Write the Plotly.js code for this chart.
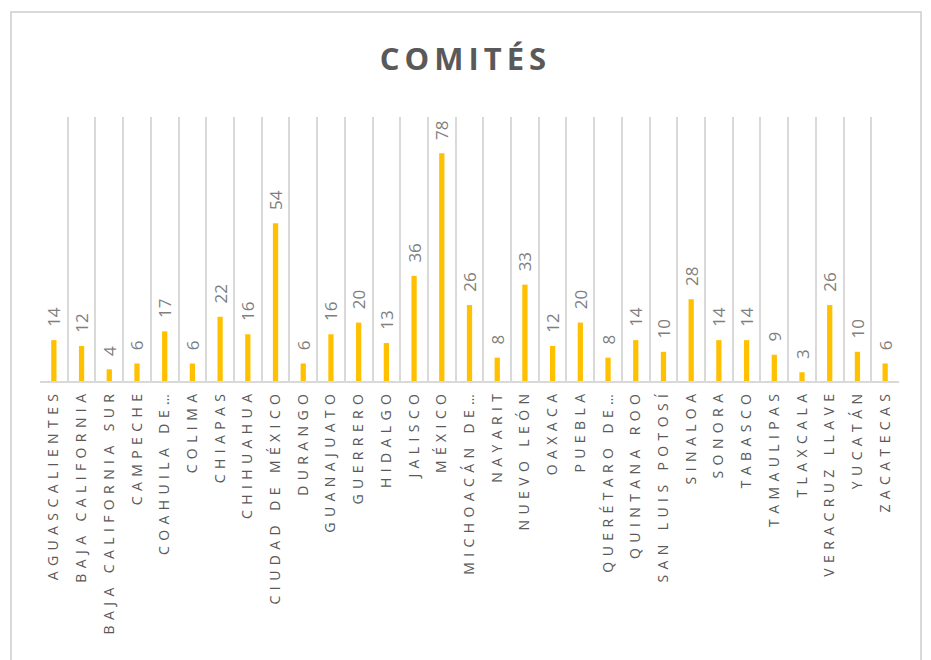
<!DOCTYPE html>
<html>
<head>
<meta charset="utf-8">
<script src="https://cdn.plot.ly/plotly-3.0.1.min.js"></script>
<style>
html,body{margin:0;padding:0;background:#fff;}
#chart{width:931px;height:660px;}
.xtick text{letter-spacing:5.4px;}
.gtitle{letter-spacing:5px;}
</style>
</head>
<body>
<div id="chart"></div>
<script>
const estados = ["AGUASCALIENTES","BAJA CALIFORNIA","BAJA CALIFORNIA SUR","CAMPECHE","COAHUILA DE…","COLIMA","CHIAPAS","CHIHUAHUA","CIUDAD DE MÉXICO","DURANGO","GUANAJUATO","GUERRERO","HIDALGO","JALISCO","MÉXICO","MICHOACÁN DE…","NAYARIT","NUEVO LEÓN","OAXACA","PUEBLA","QUERÉTARO DE…","QUINTANA ROO","SAN LUIS POTOSÍ","SINALOA","SONORA","TABASCO","TAMAULIPAS","TLAXCALA","VERACRUZ LLAVE","YUCATÁN","ZACATECAS"];
const comites = [14,12,4,6,17,6,22,16,54,6,16,20,13,36,78,26,8,33,12,20,8,14,10,28,14,14,9,3,26,10,6];

const pad = "\u00A0\u00A0\u00A0";
const trace = {
  type: "bar",
  x: estados,
  y: comites,
  width: 0.19,
  marker: {color: "#FFC000"},
  text: comites.map(v => pad + v),
  textposition: "outside",
  textangle: -90,
  constraintext: "none",
  cliponaxis: false,
  textfont: {family: "Open Sans, sans-serif", size: 17, color: "#7F7F7F"},
  hoverinfo: "none"
};

const layout = {
  width: 931, height: 660,
  margin: {l: 40, r: 32, t: 117, b: 279},
  paper_bgcolor: "rgba(0,0,0,0)",
  plot_bgcolor: "rgba(0,0,0,0)",
  showlegend: false,
  title: {
    text: "<b>COMITÉS</b>",
    font: {family: "Open Sans, sans-serif", size: 31, color: "#595959"},
    x: 0.5, xanchor: "center",
    y: 0.91, yanchor: "middle"
  },
  xaxis: {
    type: "category",
    tickson: "boundaries",
    showgrid: true,
    gridcolor: "#D9D9D9",
    gridwidth: 2,
    showline: true,
    linecolor: "#D9D9D9",
    linewidth: 2,
    ticks: "",
    tickangle: -90,
    tickfont: {family: "Open Sans, sans-serif", size: 14, color: "#595959"},
    automargin: false,
    fixedrange: true
  },
  yaxis: {
    range: [0, 90.4],
    showgrid: false,
    zeroline: false,
    showticklabels: false,
    fixedrange: true
  },
  shapes: [{
    type: "rect", xref: "paper", yref: "paper",
    x0: -29/859, x1: 881/859, y0: -300/264, y1: 369/264,
    line: {color: "#D9D9D9", width: 2},
    fillcolor: "rgba(0,0,0,0)",
    layer: "below"
  }]
};

Plotly.newPlot("chart", [trace], layout, {displayModeBar: false, staticPlot: true});
</script>
</body>
</html>
